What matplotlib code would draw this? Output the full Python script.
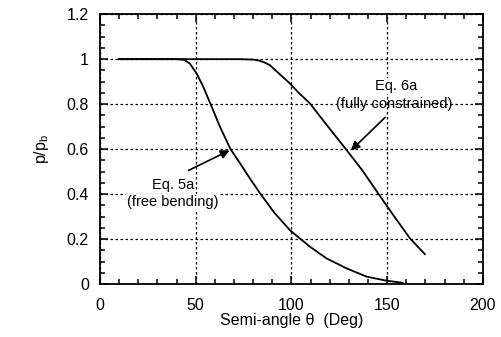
import matplotlib.pyplot as plt
from matplotlib.ticker import MultipleLocator, FormatStrFormatter

plt.rcParams['font.family'] = ['Liberation Sans', 'DejaVu Sans']

# Eq. 5a (free bending)
theta_5a = [10, 30, 40, 44, 47, 50.5, 54, 57.8, 62.7, 68.2, 73.1, 78.3, 83.5, 91, 99.2,
            102.7, 109.7, 118.4, 128.8, 139.3, 149.7, 158]
p_5a     = [1.0, 1.0, 1.0, 0.997, 0.98, 0.936, 0.877, 0.8, 0.699, 0.6, 0.538, 0.47, 0.405, 0.318, 0.24,
            0.215, 0.166, 0.114, 0.07, 0.033, 0.015, 0.006]

# Eq. 6a (fully constrained)
theta_6a = [10, 50, 73, 80, 83.5, 86, 88.8, 93, 99.2, 103.5, 109.7, 118, 128.8, 137, 145.3,
            153.5, 161.9, 169.7]
p_6a     = [1.0, 1.0, 1.0, 0.998, 0.993, 0.985, 0.973, 0.94, 0.892, 0.853, 0.803, 0.712, 0.596, 0.506, 0.403,
            0.303, 0.203, 0.133]

fig = plt.figure(figsize=(5.02, 3.37), dpi=100)
ax = fig.add_axes([0.199, 0.157, 0.763, 0.801])

ax.plot(theta_5a, p_5a, color="black", lw=1.3)
ax.plot(theta_6a, p_6a, color="black", lw=1.3)

ax.set_xlim(0, 200)
ax.set_ylim(0, 1.2)
ax.xaxis.set_major_locator(MultipleLocator(50))
ax.xaxis.set_minor_locator(MultipleLocator(10))
ax.yaxis.set_major_locator(MultipleLocator(0.2))
ax.yaxis.set_minor_locator(MultipleLocator(0.05))
ax.yaxis.set_major_formatter(FormatStrFormatter("%g"))
ax.tick_params(which="both", direction="in", top=True, right=True, labelsize=11.5, width=1.1)
ax.tick_params(which="major", length=6)
ax.tick_params(which="minor", length=3.5)
ax.tick_params(axis="x", pad=10)
ax.tick_params(axis="y", pad=8)
for s in ax.spines.values():
    s.set_linewidth(1.3)

ax.grid(which="major", color="black", linestyle=(0, (2, 2)), linewidth=0.9)

ax.set_xlabel("Semi-angle θ  (Deg)", fontsize=11.5, labelpad=0)
ax.set_ylabel("p/p$_\\mathregular{b}$", fontsize=11.5, labelpad=11)

ax.annotate("", xy=(69, 0.6), xytext=(45, 0.5),
            arrowprops=dict(arrowstyle="-|>", color="black", lw=1.2, mutation_scale=13))
ax.text(38, 0.44, "Eq. 5a", ha="center", va="center", fontsize=10.5,
        bbox=dict(facecolor="white", edgecolor="none", pad=0.5))
ax.text(38, 0.365, "(free bending)", ha="center", va="center", fontsize=10.5,
        bbox=dict(facecolor="white", edgecolor="none", pad=0.5))

ax.annotate("", xy=(130, 0.585), xytext=(150, 0.75),
            arrowprops=dict(arrowstyle="-|>", color="black", lw=1.2, mutation_scale=13))
ax.text(154.5, 0.88, "Eq. 6a", ha="center", va="center", fontsize=10.5,
        bbox=dict(facecolor="white", edgecolor="none", pad=0.5))
ax.text(153.5, 0.80, "(fully constrained)", ha="center", va="center", fontsize=10.5)

fig.savefig("out.png", dpi=100)
